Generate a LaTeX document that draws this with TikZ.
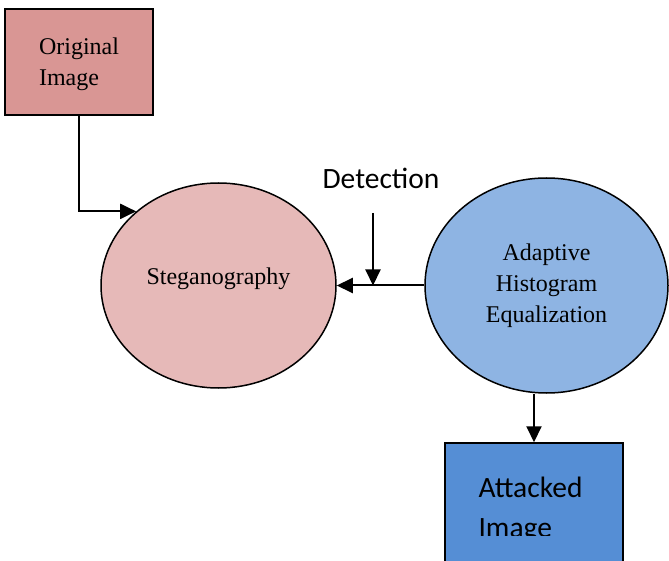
\documentclass[tikz,border=0pt]{standalone}
\usepackage{fontspec}
\setmainfont{Liberation Serif}
\newfontfamily\calib{Carlito}
\usetikzlibrary{shapes.geometric,arrows.meta}
\definecolor{origfill}{HTML}{D99694}
\definecolor{stegfill}{HTML}{E6B9B8}
\definecolor{ahefill}{HTML}{8EB4E3}
\definecolor{attfill}{HTML}{558ED5}
\begin{document}
\begin{tikzpicture}[x=1pt,y=1pt,
  boxstyle/.style={draw=black,line width=1.5pt,rectangle,inner sep=0pt},
  ellstyle/.style={draw=black,line width=1.5pt,ellipse,inner sep=0pt,align=center},
  serifsz/.style={font=\fontsize{24}{31}\selectfont,inner sep=0pt},
  arr/.style={line width=2pt,-{Triangle[length=16pt,width=15pt]}}]
\useasboundingbox (0,0) rectangle (669,560);
\node[boxstyle,fill=origfill,minimum width=148,minimum height=106] (orig) at (79,498) {};
\node[serifsz,align=left] (origtext) at (79,496) {Original\\Image};
\node[ellstyle,fill=stegfill,minimum width=235,minimum height=205] (steg) at (218.5,274.5) {};
\node[serifsz] (stegtext) at (218.5,281) {Steganography};
\node[ellstyle,fill=ahefill,minimum width=243,minimum height=215,serifsz] (ahe) at (546.5,274.5) {Adaptive\\Histogram\\Equalization};
\node[font=\calib\fontsize{29.5}{34}\selectfont,inner sep=0pt] (det) at (381,382) {Detection};
\node[boxstyle,fill=attfill,minimum width=178,minimum height=160] (att) at (534,37) {};
\begin{scope}
\clip (445,25) rectangle (623,117);
\node[font=\calib\fontsize{29.5}{40}\selectfont,align=left,inner sep=0pt] (atttext) at (530.5,50) {Attacked\\Image};
\end{scope}
\coordinate (dtop) at (373,347);
\draw[arr] (orig.south) |- (steg.138);
\draw[arr] (ahe.west) -- (steg.east);
\draw[arr] (dtop) -- (dtop |- steg.east);
\draw[arr] (att.north |- ahe.south) -- (att.north);
\end{tikzpicture}
\end{document}
